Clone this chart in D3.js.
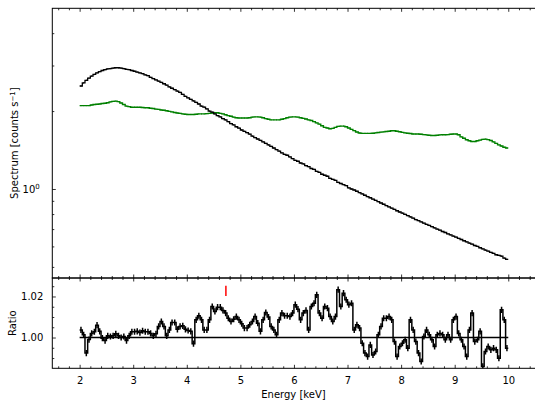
<!DOCTYPE html>
<html><head><meta charset="utf-8">
<script src="https://cdn.jsdelivr.net/npm/d3@7"></script>
<style>body{margin:0;background:#fff}svg{display:block;font-family:"DejaVu Sans",sans-serif}</style>
</head><body><svg id="c" width="535" height="402"></svg>
<script>
// ---- data ----
const binWidth = 0.05;           // keV bins starting at 2.0
const startE = 2.0;
const spectrumCounts = [
2.50,2.57,2.63,2.68,2.73,2.77,2.81,2.84,2.87,2.89,2.91,2.92,2.93,2.94,2.94,2.93,2.92,2.90,2.89,2.87,
2.85,2.83,2.81,2.79,2.76,2.74,2.70,2.67,2.64,2.61,2.58,2.55,2.52,2.48,2.45,2.42,2.39,2.36,2.32,2.28,
2.25,2.22,2.19,2.16,2.13,2.09,2.07,2.04,2.00,1.98,1.95,1.92,1.90,1.87,1.85,1.82,1.79,1.77,1.74,1.72,
1.69,1.67,1.65,1.63,1.60,1.58,1.56,1.54,1.52,1.50,1.48,1.46,1.44,1.42,1.40,1.38,1.36,1.35,1.33,1.31,
1.29,1.28,1.26,1.25,1.23,1.22,1.20,1.19,1.17,1.16,1.14,1.13,1.12,1.10,1.09,1.08,1.06,1.05,1.04,1.03,
1.01,1.00,0.991,0.980,0.968,0.957,0.946,0.935,0.925,0.914,0.904,0.893,0.883,0.873,0.863,0.853,0.843,0.834,0.824,0.815,
0.807,0.798,0.789,0.780,0.771,0.762,0.755,0.746,0.738,0.730,0.723,0.715,0.708,0.700,0.693,0.685,0.679,0.671,0.665,0.658,
0.652,0.644,0.638,0.631,0.625,0.618,0.612,0.605,0.600,0.593,0.587,0.581,0.575,0.569,0.564,0.557,0.554,0.550,0.541,0.535];
const modelCounts = [
2.10,2.10,2.10,2.10,2.11,2.12,2.125,2.13,2.14,2.145,2.155,2.17,2.18,2.185,2.175,2.15,2.12,2.09,2.08,2.07,
2.07,2.07,2.07,2.065,2.06,2.06,2.05,2.045,2.035,2.03,2.02,2.015,2.005,1.995,1.985,1.975,1.965,1.96,1.95,1.945,
1.94,1.94,1.94,1.945,1.95,1.95,1.95,1.955,1.96,1.965,1.97,1.97,1.96,1.95,1.935,1.92,1.91,1.895,1.885,1.88,
1.88,1.88,1.88,1.885,1.895,1.90,1.90,1.895,1.885,1.87,1.86,1.85,1.85,1.85,1.85,1.86,1.87,1.885,1.895,1.90,
1.90,1.895,1.885,1.875,1.865,1.85,1.84,1.82,1.80,1.78,1.755,1.73,1.72,1.71,1.715,1.73,1.745,1.75,1.75,1.74,
1.72,1.70,1.68,1.66,1.645,1.64,1.64,1.64,1.64,1.642,1.648,1.652,1.658,1.662,1.668,1.672,1.678,1.678,1.672,1.665,
1.655,1.648,1.642,1.638,1.632,1.63,1.63,1.628,1.622,1.618,1.612,1.61,1.61,1.612,1.618,1.62,1.62,1.622,1.628,1.63,
1.63,1.62,1.59,1.57,1.55,1.535,1.525,1.525,1.535,1.545,1.555,1.558,1.552,1.54,1.52,1.50,1.48,1.465,1.45,1.44];
const ratioValues = [
1.0037,1.0013,0.9924,0.9990,1.0020,1.0028,1.0060,1.0030,0.9997,0.9985,1.0008,1.0005,1.0008,1.0018,1.0008,1.0000,1.0005,0.9985,1.0008,1.0028,
1.0028,1.0030,1.0024,1.0033,1.0028,1.0028,1.0020,1.0008,1.0018,1.0054,1.0078,1.0054,1.0008,1.0037,1.0073,1.0073,1.0040,1.0054,1.0057,1.0040,
1.0034,1.0030,0.9970,1.0086,1.0106,1.0086,1.0037,1.0037,1.0086,1.0151,1.0127,1.0148,1.0148,1.0132,1.0119,1.0094,1.0078,1.0089,1.0102,1.0086,
1.0067,1.0046,1.0046,1.0062,1.0078,1.0102,1.0070,1.0030,1.0086,1.0122,1.0100,1.0054,1.0037,1.0013,1.0086,1.0119,1.0106,1.0106,1.0102,1.0119,
1.0160,1.0138,1.0086,1.0119,1.0132,1.0037,1.0151,1.0167,1.0208,1.0119,1.0094,1.0151,1.0143,1.0102,1.0078,1.0102,1.0233,1.0151,1.0216,1.0184,
1.0160,1.0167,1.0037,1.0062,1.0046,0.9972,0.9924,0.9907,0.9964,0.9915,0.9932,1.0013,1.0054,1.0094,1.0094,1.0102,1.0086,0.9980,0.9907,0.9956,
0.9972,0.9989,0.9948,1.0086,1.0037,0.9980,0.9924,0.9883,1.0005,1.0037,1.0013,0.9989,0.9956,1.0013,1.0020,1.0013,0.9989,1.0013,0.9989,1.0086,
1.0102,1.0020,0.9989,0.9956,0.9907,1.0037,1.0119,0.9980,0.9989,1.0030,0.9859,0.9932,0.9956,0.9940,0.9948,0.9940,0.9899,1.0135,1.0086,0.9948];
const ratioErr = 0.0015;
const markerEnergy = [4.73];
const markerRange = [1.0202, 1.0252];
const xMajorTicks = [2,3,4,5,6,7,8,9,10];
const xMinorTicks = [1.6,1.8,2.2,2.4,2.6,2.8,3.2,3.4,3.6,3.8,4.2,4.4,4.6,4.8,5.2,5.4,5.6,5.8,6.2,6.4,6.6,6.8,7.2,7.4,7.6,7.8,8.2,8.4,8.6,8.8,9.2,9.4,9.6,9.8,10.2,10.4];
const specMajorTicks = [1];
const specMinorTicks = [0.5,0.6,0.7,0.8,0.9,2,3,4];
const ratioMajorTicks = [1.00, 1.02];
const ratioMinorTicks = [0.990,0.995,1.005,1.010,1.015,1.025];

// ---- layout ----
const L = 52.3, R = 535.6, T1 = 8.3, B1 = 278, T2 = 278, B2 = 368.3;
const svg = d3.select("#c");
const x = d3.scaleLinear().domain([1.49, 10.51]).range([L, R]);
const yS = d3.scaleLog().domain([0.453, 4.99]).range([B1, T1]);
const yR = d3.scaleLinear().domain([0.985, 1.029]).range([B2, T2]);

svg.append("defs").call(d=>{
  d.append("clipPath").attr("id","cp1").append("rect").attr("x",L).attr("y",T1).attr("width",R-L).attr("height",B1-T1);
  d.append("clipPath").attr("id","cp2").append("rect").attr("x",L).attr("y",T2).attr("width",R-L).attr("height",B2-T2);
});

function stepPath(vals, w, yScale){
  const pts = [];
  vals.forEach((v,i)=>{ const e0 = startE + i*w, e1 = e0 + w; pts.push([x(e0), yScale(v)], [x(e1), yScale(v)]); });
  return d3.line()(pts);
}
function errBars(g, vals, w, yScale, lo, hi, color, sw){
  g.selectAll(null).data(vals).join("line")
    .attr("x1",(v,i)=>x(startE+(i+0.5)*w)).attr("x2",(v,i)=>x(startE+(i+0.5)*w))
    .attr("y1",v=>yScale(lo(v))).attr("y2",v=>yScale(hi(v)))
    .attr("stroke",color).attr("stroke-width",sw);
}

// top panel data
const g1 = svg.append("g").attr("clip-path","url(#cp1)");
g1.append("path").attr("d", stepPath(modelCounts, binWidth, yS)).attr("fill","none").attr("stroke","#008000").attr("stroke-width",1.4);
errBars(g1, modelCounts, binWidth, yS, v=>v*0.995, v=>v*1.005, "#008000", 0.9);
g1.append("path").attr("d", stepPath(spectrumCounts, binWidth, yS)).attr("fill","none").attr("stroke","#000").attr("stroke-width",1.3);
errBars(g1, spectrumCounts, binWidth, yS, v=>v*0.994, v=>v*1.006, "#000", 1);

// bottom panel data
const g2 = svg.append("g").attr("clip-path","url(#cp2)");
g2.append("line").attr("x1",x(2)).attr("x2",x(10)).attr("y1",yR(1)).attr("y2",yR(1)).attr("stroke","#000").attr("stroke-width",1.5);
g2.append("path").attr("d", stepPath(ratioValues, binWidth, yR)).attr("fill","none").attr("stroke","#000").attr("stroke-width",1.5);
errBars(g2, ratioValues, binWidth, yR, v=>v-ratioErr, v=>v+ratioErr, "#000", 1.5);
svg.selectAll(null).data(markerEnergy).join("line")
  .attr("x1",d=>x(d)).attr("x2",d=>x(d)).attr("y1",yR(markerRange[0])).attr("y2",yR(markerRange[1]))
  .attr("stroke","#ff0000").attr("stroke-width",1.5);

// axes
function styleAxis(g){ g.select(".domain").remove(); g.selectAll("line").attr("stroke","#000").attr("stroke-width",0.8); g.selectAll("text").attr("font-size",10).attr("fill","#000").attr("font-family","DejaVu Sans"); }
function xAxes(top, bottom, labels){
  svg.append("g").attr("transform",`translate(0,${top})`).call(d3.axisTop(x).tickValues(xMajorTicks).tickSize(-3.5).tickFormat("")).call(styleAxis);
  svg.append("g").attr("transform",`translate(0,${top})`).call(d3.axisTop(x).tickValues(xMinorTicks).tickSize(-2).tickFormat("")).call(styleAxis);
  svg.append("g").attr("transform",`translate(0,${bottom})`).call(d3.axisBottom(x).tickValues(xMajorTicks).tickSize(-3.5).tickPadding(9).tickFormat(labels? d3.format("d") : "")).call(styleAxis);
  svg.append("g").attr("transform",`translate(0,${bottom})`).call(d3.axisBottom(x).tickValues(xMinorTicks).tickSize(-2).tickFormat("")).call(styleAxis);
}
xAxes(T1, B1, false);
xAxes(T2, B2, true);

// top y axis
const ay1 = svg.append("g").attr("transform",`translate(${L},0)`).call(d3.axisLeft(yS).tickValues(specMajorTicks).tickSize(-3.5).tickPadding(12).tickFormat(()=>"")).call(styleAxis);
ay1.selectAll(".tick text").each(function(){
  const t = d3.select(this).text(null).attr("dy","0.32em").attr("text-anchor","start");
  t.append("tspan").text("10");
  t.append("tspan").attr("font-size",7).attr("dy","-0.55em").text("0");
  const w = this.getComputedTextLength();
  t.attr("x", -(12.5 + w));
});
svg.append("g").attr("transform",`translate(${L},0)`).call(d3.axisLeft(yS).tickValues(specMinorTicks).tickSize(-2).tickFormat("")).call(styleAxis);

// ratio y axis
svg.append("g").attr("transform",`translate(${L},0)`).call(d3.axisLeft(yR).tickValues(ratioMajorTicks).tickSize(-3.5).tickPadding(9).tickFormat(d3.format(".2f"))).call(styleAxis);
svg.append("g").attr("transform",`translate(${L},0)`).call(d3.axisLeft(yR).tickValues(ratioMinorTicks).tickSize(-2).tickFormat("")).call(styleAxis);

// frames
[[T1,B1],[T2,B2]].forEach(([t,b])=>{
  svg.append("rect").attr("x",L).attr("y",t).attr("width",R-L).attr("height",b-t).attr("fill","none").attr("stroke","#000").attr("stroke-width",1);
});

// labels
svg.append("text").attr("x",(L+R)/2 - 0.5).attr("y",398).attr("text-anchor","middle").attr("font-size",10).text("Energy [keV]");
svg.append("text").attr("transform",`translate(16,${(T2+B2)/2}) rotate(-90)`).attr("text-anchor","middle").attr("font-size",10).text("Ratio");
const sl = svg.append("text").attr("transform",`translate(18,${(T1+B1)/2}) rotate(-90)`).attr("text-anchor","middle").attr("font-size",10);
sl.append("tspan").text("Spectrum [counts s");
sl.append("tspan").attr("font-size",7).attr("dy","-0.5em").text("−1");
sl.append("tspan").attr("dy","0.35em").text("]");
</script></body></html>
